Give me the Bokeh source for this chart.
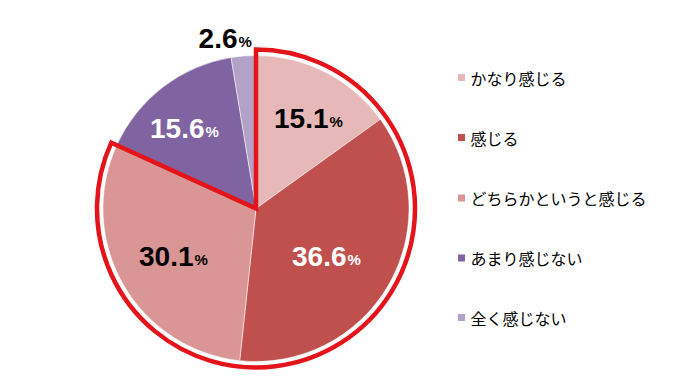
import numpy as np
from bokeh.plotting import figure
from bokeh.models import Range1d, ColumnDataSource
from bokeh.core.properties import value
from bokeh.embed import file_html
from bokeh.resources import INLINE

categories = ["かなり感じる", "感じる", "どちらかというと感じる", "あまり感じない", "全く感じない"]
values = [15.1, 36.6, 30.1, 15.6, 2.6]
colors = ["#E6B9B8", "#C0504D", "#D99694", "#8064A2", "#B2A2C7"]
label_colors = ["#000000", "#FFFFFF", "#000000", "#FFFFFF", "#000000"]
highlight_n = 3  # first three slices outlined

W, H = 679, 375

def px(x):
    return x

def py(y):
    return H - y

p = figure(width=W, height=H, output_backend="svg", toolbar_location=None,
           x_range=Range1d(0, W), y_range=Range1d(0, H), min_border=0)
p.axis.visible = False
p.grid.visible = False
p.outline_line_color = None
p.background_fill_color = "white"

cx, cy, r = px(255.5), py(208), 153
vals = np.array(values)
cum = np.concatenate([[0], np.cumsum(vals)]) / vals.sum()
starts = np.pi / 2 - 2 * np.pi * cum[:-1]
ends = np.pi / 2 - 2 * np.pi * cum[1:]

src = ColumnDataSource(dict(start=starts, end=ends, color=colors))
p.wedge(x=cx, y=cy, radius=r, start_angle="start", end_angle="end",
        direction="clock", fill_color="color", line_color="white", line_width=0.5, source=src)

# red outline around first three slices
p.wedge(x=cx, y=cy, radius=159, start_angle=starts[0], end_angle=ends[highlight_n - 1],
        direction="clock", fill_color=None, line_color="#E5141B", line_width=4.5, line_join="miter")

# labels
label_pos = [(328, 118), (346, 256), (193, 256), (204, 128), (237, 38)]
for v, (lx, ly), c in zip(values, label_pos, label_colors):
    num = f"{v:.1f}"
    p.text(x=[px(lx)], y=[py(ly)], text=[num], text_align="right", text_baseline="middle",
           text_font=value("Liberation Sans"), text_font_style="bold", text_font_size="28px",
           text_color=c)
    p.text(x=[px(lx) + 1], y=[py(ly) - 3], text=["%"], text_align="left", text_baseline="middle",
           text_font=value("Liberation Sans"), text_font_style="bold", text_font_size="15px",
           text_color=c)

# legend
leg_y = [77, 137, 197.5, 257.5, 317]
for cat, col, ly in zip(categories, colors, leg_y):
    p.rect(x=[px(461)], y=[py(ly)], width=7, height=7, fill_color=col, line_color=None)
    p.text(x=[px(470)], y=[py(ly)], text=[cat], text_align="left", text_baseline="middle",
           text_font=value("Noto Sans CJK JP"), text_font_size="16px", text_color="#000000")

open("out.html", "w").write(file_html(p, INLINE))
